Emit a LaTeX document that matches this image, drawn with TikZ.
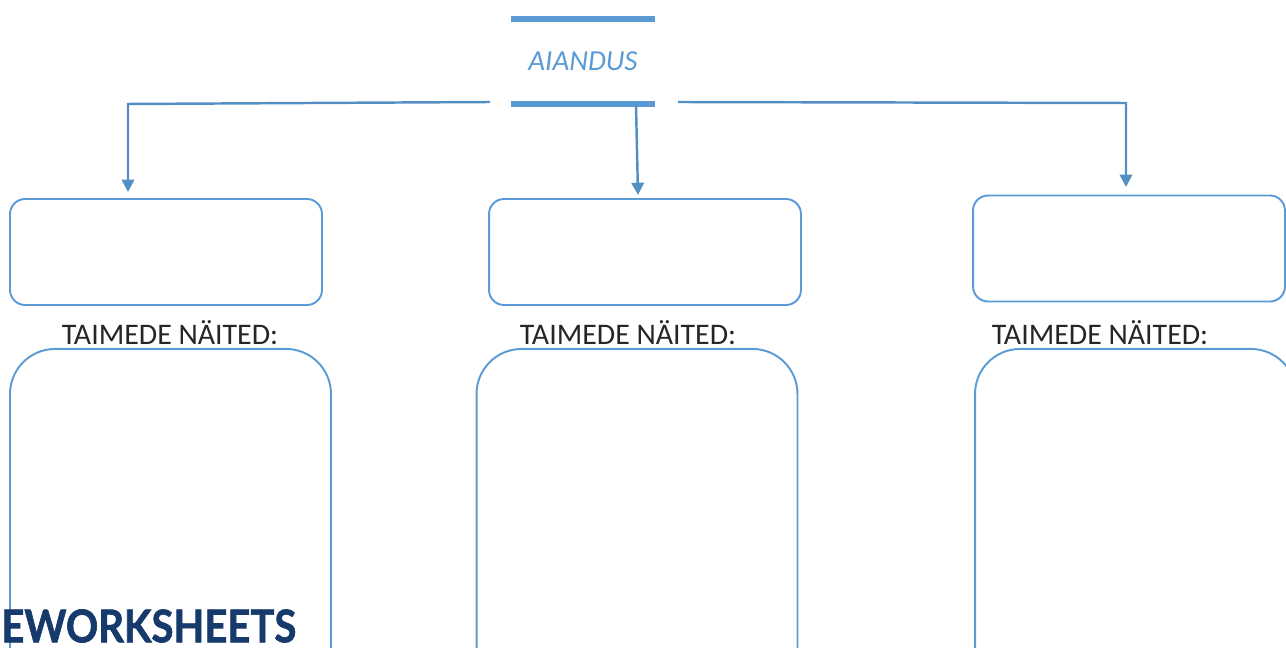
\documentclass[tikz,border=0pt]{standalone}
\usepackage{fontspec}
\setmainfont{Carlito}
\newfontfamily\wsfont[BoldFeatures={FakeBold=1.5}]{Lato}
\usetikzlibrary{arrows.meta}
\definecolor{aiblue}{RGB}{91,155,213}
\definecolor{wsnavy}{RGB}{22,58,108}
\begin{document}
\begin{tikzpicture}[x=0.02cm, y=-0.02cm,
	bar/.style = {draw=aiblue, line width=3.4pt},
	link/.style = {draw=aiblue!92!black, line width=1.4pt, -{Triangle[width=7pt,length=7pt]}},
	box/.style = {draw=aiblue, line width=1.1pt, rounded corners=0.3cm, minimum width=6.24cm, minimum height=2.12cm},
	list/.style = {draw=aiblue, line width=1.1pt, rounded corners=0.9cm, minimum width=6.42cm, minimum height=8cm, anchor=north},
	lbl/.style = {font=\fontsize{17}{19}\selectfont, text=black!85}]
	\useasboundingbox (0,0) rectangle (1286,648);
	\clip (0,0) rectangle (1286,648);
	% title
	\node[lbl, text=aiblue, font=\fontsize{16.5}{18}\selectfont\itshape, minimum width=2.88cm, minimum height=1.7cm] (t) at (583,61.5) {AIANDUS};
	\draw[bar] (t.north west) -- (t.north east);
	\draw[bar] (t.south west) -- (t.south east);
	% boxes
	\node[box] (1) at (166,252) {};
	\node[box] (2) at (645,252) {};
	\node[box] (3) at (1129,248.5) {};
	\node[lbl] (1l) at (170,333) {TAIMEDE NÄITED:};
	\node[lbl] (2l) at (628,333) {TAIMEDE NÄITED:};
	\node[lbl] (3l) at (1100,333) {TAIMEDE NÄITED:};
	\node[list] (4) at (170.5,348) {};
	\node[list] (5) at (637,348) {};
	\node[list] (6) at (1135.5,348) {};
	% arrows
	\coordinate (l0) at (490,102);
	\coordinate (l1) at (128,104);
	\coordinate (l2) at (128,192);
	\coordinate (m2) at (638,195);
	\coordinate (r0) at (678,102);
	\coordinate (r1) at (1126,103);
	\coordinate (r2) at (1126,187);
	\draw[link] (l0) -- (l1) -- (l2);
	\draw[link] ([xshift=1.06cm]t.south) -- (m2);
	\draw[link] (r0) -- (r1) -- (r2);
	% watermark
	\node[anchor=south west, inner sep=0, text=wsnavy] (ws) at (1,643) {\resizebox{5.9cm}{0.66cm}{\wsfont\bfseries EWORKSHEETS}};
\end{tikzpicture}
\end{document}
